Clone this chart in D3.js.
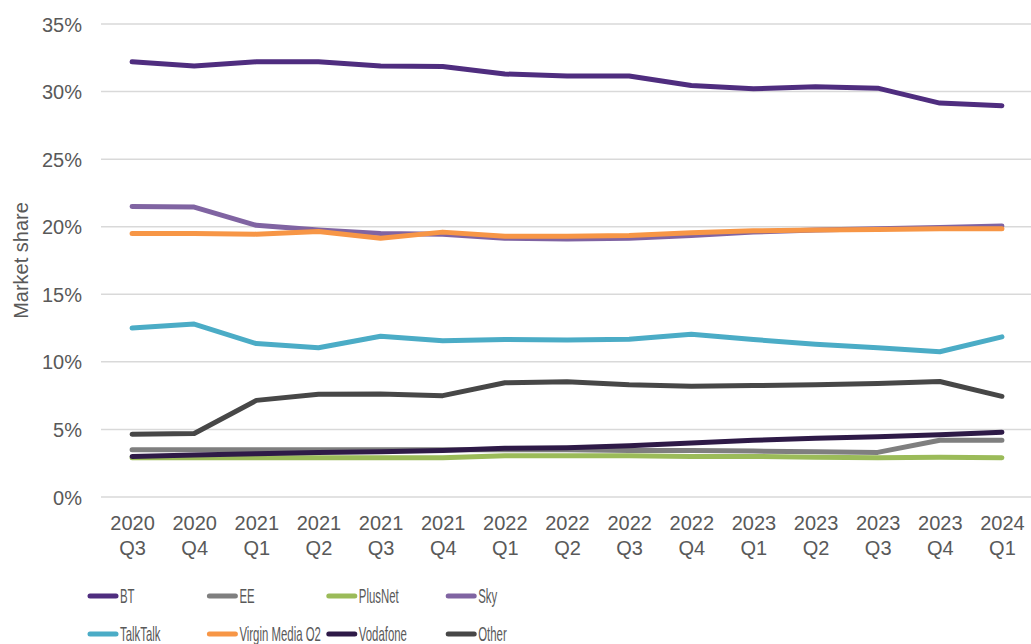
<!DOCTYPE html>
<html>
<head>
<meta charset="utf-8">
<script src="https://cdn.jsdelivr.net/npm/d3@7"></script>
<style>
  body { margin: 0; background: #fff; }
  text { font-family: "Liberation Sans", Arial, sans-serif; fill: #595959; }
</style>
</head>
<body>
<svg id="chart"></svg>
<script>
// Quarters on the x axis
var quarters = ["2020 Q3", "2020 Q4", "2021 Q1", "2021 Q2", "2021 Q3", "2021 Q4", "2022 Q1", "2022 Q2",
  "2022 Q3", "2022 Q4", "2023 Q1", "2023 Q2", "2023 Q3", "2023 Q4", "2024 Q1"];

// Market share per provider (%)
var bt = [32.2, 31.9, 32.2, 32.2, 31.9, 31.85, 31.3, 31.15, 31.15, 30.45, 30.2, 30.35, 30.25, 29.15, 28.95];
var ee = [3.5, 3.5, 3.5, 3.5, 3.5, 3.5, 3.5, 3.5, 3.45, 3.45, 3.4, 3.35, 3.3, 4.2, 4.2];
var plusNet = [2.9, 2.9, 2.9, 2.9, 2.9, 2.9, 3.05, 3.05, 3.05, 3.0, 3.0, 2.95, 2.9, 2.95, 2.9];
var sky = [21.5, 21.45, 20.1, 19.75, 19.5, 19.45, 19.15, 19.1, 19.15, 19.35, 19.6, 19.75, 19.85, 19.95, 20.05];
var talkTalk = [12.5, 12.8, 11.35, 11.05, 11.9, 11.57, 11.65, 11.62, 11.67, 12.05, 11.65, 11.3, 11.05, 10.75, 11.85];
var virgin = [19.5, 19.5, 19.45, 19.65, 19.15, 19.6, 19.3, 19.3, 19.35, 19.55, 19.7, 19.75, 19.8, 19.85, 19.85];
var vodafone = [3.0, 3.1, 3.2, 3.3, 3.35, 3.45, 3.6, 3.65, 3.8, 4.0, 4.2, 4.35, 4.45, 4.6, 4.8];
var other = [4.65, 4.7, 7.15, 7.6, 7.62, 7.5, 8.45, 8.53, 8.3, 8.2, 8.25, 8.3, 8.4, 8.55, 7.45];

var names = ["BT", "EE", "PlusNet", "Sky", "TalkTalk", "Virgin Media O2", "Vodafone", "Other"];
var colors = ["#4f2d7f", "#7f7f7f", "#9bbb59", "#8064a2", "#4bacc6", "#f79646", "#2e1a47", "#474747"];
var yTicks = [0, 5, 10, 15, 20, 25, 30, 35];

var seriesValues = [bt, ee, plusNet, sky, talkTalk, virgin, vodafone, other];
var series = names.map(function(n, i) {
  return { name: n, color: colors[i], values: seriesValues[i] };
});

var width = 1031, height = 644;
var plotLeft = 101, plotRight = 1033, plotTop = 24, plotBottom = 497;

var svg = d3.select("#chart")
  .attr("width", width)
  .attr("height", height);

var x = d3.scalePoint()
  .domain(quarters)
  .range([plotLeft, plotRight])
  .padding(0.5);

var y = d3.scaleLinear()
  .domain([0, 35])
  .range([plotBottom, plotTop]);

// Gridlines
svg.append("g")
  .selectAll("line")
  .data(yTicks)
  .enter()
  .append("line")
  .attr("x1", plotLeft)
  .attr("x2", width)
  .attr("y1", function(d) { return y(d); })
  .attr("y2", function(d) { return y(d); })
  .attr("stroke", "#d9d9d9")
  .attr("stroke-width", 1.5);

// y axis labels
var yAxis = svg.append("g")
  .attr("transform", "translate(82,0)")
  .call(d3.axisLeft(y).tickValues(yTicks).tickSize(0).tickPadding(0)
    .tickFormat(function(d) { return d + "%"; }));
yAxis.select(".domain").remove();
yAxis.selectAll("text")
  .style("font-family", "Liberation Sans, Arial, sans-serif")
  .style("font-size", "20px")
  .attr("fill", "#595959")
  .attr("dy", "0.35em");

// x axis labels, two lines each
var xAxis = svg.append("g")
  .attr("transform", "translate(0," + plotBottom + ")")
  .call(d3.axisBottom(x).tickSize(0).tickFormat(""));
xAxis.select(".domain").remove();
xAxis.selectAll(".tick").each(function(d) {
  var parts = d.split(" ");
  var t = d3.select(this).append("text")
    .attr("text-anchor", "middle")
    .style("font-family", "Liberation Sans, Arial, sans-serif")
    .style("font-size", "20px")
    .attr("fill", "#595959");
  t.append("tspan").attr("x", 0).attr("y", 33).text(parts[0]);
  t.append("tspan").attr("x", 0).attr("y", 58).text(parts[1]);
});

// y axis title
svg.append("text")
  .attr("transform", "translate(28," + ((plotTop + plotBottom) / 2) + ") rotate(-90)")
  .attr("text-anchor", "middle")
  .style("font-size", "20px")
  .text("Market share");

// Lines
var line = d3.line()
  .x(function(d, i) { return x(quarters[i]); })
  .y(function(d) { return y(d); });

svg.append("g")
  .selectAll("path")
  .data(series)
  .enter()
  .append("path")
  .attr("fill", "none")
  .attr("stroke", function(d) { return d.color; })
  .attr("stroke-width", 5)
  .attr("stroke-linejoin", "round")
  .attr("stroke-linecap", "round")
  .attr("d", function(d) { return line(d.values); });

// Legend (text is squashed horizontally like the original)
var legend = svg.append("g")
  .selectAll("g")
  .data(series)
  .enter()
  .append("g")
  .attr("transform", function(d, i) {
    return "translate(" + (88 + (i % 4) * 119.4) + "," + (596 + Math.floor(i / 4) * 38) + ")";
  });

legend.append("line")
  .attr("x1", 2)
  .attr("x2", 28)
  .attr("stroke", function(d) { return d.color; })
  .attr("stroke-width", 5)
  .attr("stroke-linecap", "round");

legend.append("text")
  .attr("transform", "translate(32,7) scale(0.57,1)")
  .style("font-size", "20px")
  .text(function(d) { return d.name; });
</script>
</body>
</html>
